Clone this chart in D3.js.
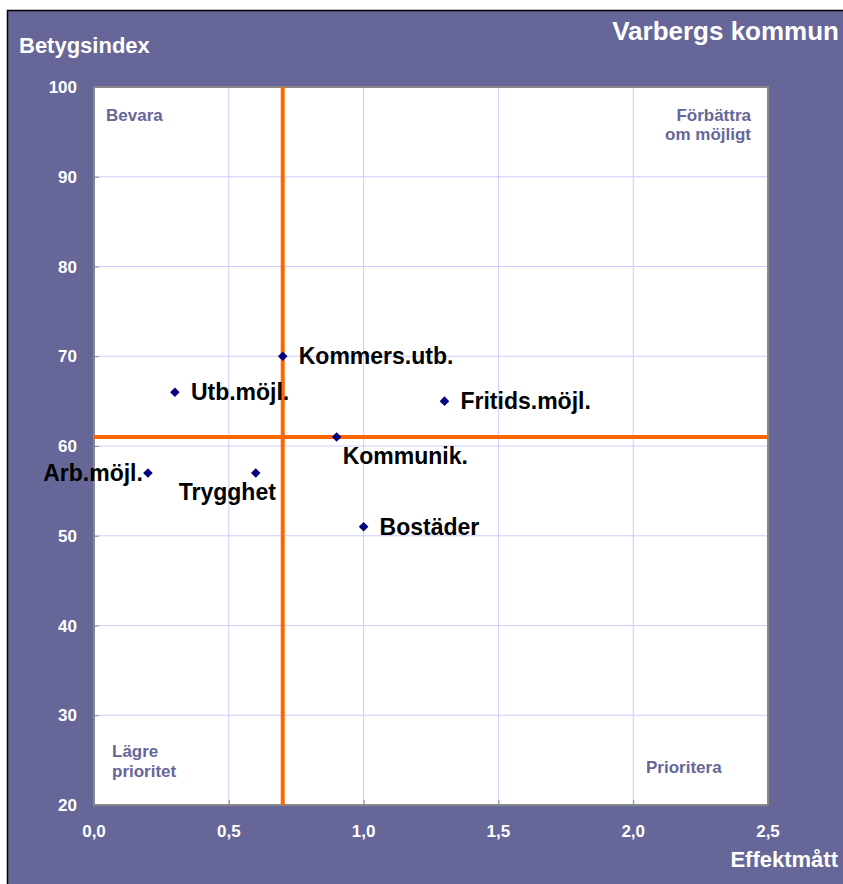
<!DOCTYPE html>
<meta charset="utf-8">
<style>
body { margin: 0; background: #fff; }
svg text { font-family: Arial, "Liberation Sans", Helvetica, sans-serif; font-weight: bold; }
</style>
<svg width="843" height="884"></svg>
<script src="https://d3js.org/d3.v7.min.js"></script>
<script>

// scatter data: effect measure vs rating index
var names = ["Kommers.utb.", "Utb.möjl.", "Fritids.möjl.", "Kommunik.", "Arb.möjl.", "Trygghet", "Bostäder"];
var effekt = [0.7, 0.3, 1.3, 0.9, 0.2, 0.6, 1.0];
var betyg = [70, 66, 65, 61, 57, 57, 51];
var labelPos = ["right", "right", "right", "below", "left", "belowleft", "right"];

var xTicks = [0, 0.5, 1.0, 1.5, 2.0, 2.5];
var yTicks = [20, 30, 40, 50, 60, 70, 80, 90, 100];
var meanX = 0.7, meanY = 61;

var svg = d3.select("svg");

// purple frame
svg.append("rect")
    .attr("x", 7.5).attr("y", 10.5)
    .attr("width", 840).attr("height", 880)
    .attr("fill", "#666699")
    .attr("stroke", "#000").attr("stroke-width", 1.5);

var pLeft = 94, pRight = 768, pTop = 87, pBottom = 805;

var x = d3.scaleLinear().domain([0, 2.5]).range([pLeft, pRight]);
var y = d3.scaleLinear().domain([20, 100]).range([pBottom, pTop]);

svg.append("rect")
    .attr("x", pLeft).attr("y", pTop)
    .attr("width", pRight - pLeft).attr("height", pBottom - pTop)
    .attr("fill", "#fff")
    .attr("stroke", "#888").attr("stroke-width", 2);

// gridlines
svg.append("g").selectAll("line")
  .data(xTicks.slice(1, -1))
  .enter().append("line")
    .attr("x1", function(d) { return x(d); }).attr("x2", function(d) { return x(d); })
    .attr("y1", pTop + 1).attr("y2", pBottom - 1)
    .attr("stroke", "#ccccff").attr("stroke-width", 1);

svg.append("g").selectAll("line")
  .data(yTicks.slice(1, -1))
  .enter().append("line")
    .attr("y1", function(d) { return y(d); }).attr("y2", function(d) { return y(d); })
    .attr("x1", pLeft + 1).attr("x2", pRight - 1)
    .attr("stroke", "#ccccff").attr("stroke-width", 1);

// tick marks
var yAxis = svg.append("g")
    .attr("transform", "translate(" + pLeft + ",0)")
    .call(d3.axisRight(y).tickValues(yTicks).tickSize(5).tickFormat(""));
yAxis.select(".domain").remove();
yAxis.selectAll("line").attr("stroke", "#888");

var xAxis = svg.append("g")
    .attr("transform", "translate(0," + pBottom + ")")
    .call(d3.axisTop(x).tickValues(xTicks).tickSize(5).tickFormat(""));
xAxis.select(".domain").remove();
xAxis.selectAll("line").attr("stroke", "#888");

svg.append("g").selectAll("text")
  .data(yTicks)
  .enter().append("text")
    .attr("x", 77)
    .attr("y", function(d) { return y(d) + 6; })
    .attr("text-anchor", "end")
    .attr("fill", "#fff")
    .attr("font-size", "17px")
    .text(function(d) { return d; });

svg.append("g").selectAll("text")
  .data(xTicks)
  .enter().append("text")
    .attr("x", function(d) { return x(d); })
    .attr("y", 837)
    .attr("text-anchor", "middle")
    .attr("fill", "#fff")
    .attr("font-size", "17px")
    .text(function(d) { return d3.format(".1f")(d).replace(".", ","); });

// mean lines
svg.append("line")
    .attr("x1", x(meanX)).attr("x2", x(meanX))
    .attr("y1", pTop).attr("y2", pBottom)
    .attr("stroke", "#ff6600").attr("stroke-width", 4);
svg.append("line")
    .attr("x1", pLeft).attr("x2", pRight)
    .attr("y1", y(meanY)).attr("y2", y(meanY))
    .attr("stroke", "#ff6600").attr("stroke-width", 4);

// quadrant labels
var quad = svg.append("g").attr("fill", "#666699").attr("font-size", "17px");
quad.append("text").attr("x", 106).attr("y", 121).text("Bevara");
quad.append("text").attr("x", 751).attr("y", 121).attr("text-anchor", "end").text("Förbättra");
quad.append("text").attr("x", 751).attr("y", 140).attr("text-anchor", "end").text("om möjligt");
quad.append("text").attr("x", 112).attr("y", 757).text("Lägre");
quad.append("text").attr("x", 112).attr("y", 777).text("prioritet");
quad.append("text").attr("x", 646).attr("y", 773).text("Prioritera");

// points
var pts = names.map(function(n, i) { return { name: n, ex: effekt[i], by: betyg[i], pos: labelPos[i] }; });

svg.append("g").selectAll("path")
  .data(pts)
  .enter().append("path")
    .attr("d", d3.symbol().type(d3.symbolDiamond2).size(58))
    .attr("transform", function(d) { return "translate(" + x(d.ex) + "," + y(d.by) + ")"; })
    .attr("fill", "#000080");

svg.append("g").selectAll("text")
  .data(pts)
  .enter().append("text")
    .attr("font-size", "23px")
    .attr("fill", "#000")
    .attr("x", function(d) {
      var px = x(d.ex);
      if (d.pos == "right") return px + 16;
      if (d.pos == "left") return px - 5;
      if (d.pos == "below") return px + 6;
      return px - 77;
    })
    .attr("y", function(d) {
      var py = y(d.by);
      if (d.pos == "below") return py + 27;
      if (d.pos == "belowleft") return py + 27;
      return py + 8;
    })
    .attr("text-anchor", function(d) { return d.pos == "left" ? "end" : "start"; })
    .text(function(d) { return d.name; });

// titles
svg.append("text")
    .attr("x", 839).attr("y", 40)
    .attr("text-anchor", "end")
    .attr("fill", "#fff").attr("font-size", "26px")
    .text("Varbergs kommun");
svg.append("text")
    .attr("x", 19).attr("y", 53)
    .attr("fill", "#fff").attr("font-size", "22px")
    .text("Betygsindex");
svg.append("text")
    .attr("x", 838).attr("y", 867)
    .attr("text-anchor", "end")
    .attr("fill", "#fff").attr("font-size", "22px")
    .text("Effektmått");
</script>
